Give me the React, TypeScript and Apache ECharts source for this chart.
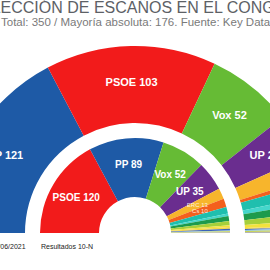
import React, { useEffect, useRef } from "react";
import * as echarts from "echarts";

const titleText = "ELECCIÓN DE ESCAÑOS EN EL CONGRESO";
const subtitleText = "Total: 350 / Mayoría absoluta: 176. Fuente: Key Data";
const outerCaption = "Estimación 28/06/2021";
const innerCaption = "Resultados 10-N";

const outerParties = ["PP", "PSOE", "Vox", "UP", "ERC", "Cs", "JxCat", "Más País", "PNV", "EH Bildu", "CUP", "CC", "NA+", "BNG", "PRC", "Teruel Existe"];
const outerSeats = [121, 103, 52, 27, 13, 3, 8, 4, 6, 5, 3, 1, 1, 1, 1, 1];

const innerParties = ["PSOE", "PP", "Vox", "UP", "ERC", "Cs", "JxCat", "Más País", "PNV", "EH Bildu", "CUP", "CC", "NA+", "BNG", "PRC", "Teruel Existe"];
const innerSeats = [120, 89, 52, 35, 13, 10, 8, 3, 6, 5, 2, 2, 2, 1, 1, 1];

const partyColors: Record<string, string> = {
  PP: "#1e5aa6",
  PSOE: "#f21b1b",
  Vox: "#66bb35",
  UP: "#6a2d8f",
  ERC: "#f7b52c",
  Cs: "#f4601d",
  JxCat: "#1fbfae",
  "Más País": "#45d6cb",
  PNV: "#1d9a4c",
  "EH Bildu": "#a6cf3a",
  CUP: "#f2e23c",
  CC: "#f5d547",
  "NA+": "#3a63b8",
  BNG: "#8fc5e6",
  PRC: "#c8d34a",
  "Teruel Existe": "#b5b5b5",
};

export default function App() {
  const ref = useRef<HTMLDivElement>(null);
  useEffect(() => {
    if (!ref.current) return;
    const chart = echarts.init(ref.current, null, { renderer: "svg" });
    const font = "'Liberation Sans', Arial, sans-serif";
    const outerData = outerParties.map((p, i) => ({
      name: p,
      value: outerSeats[i],
      itemStyle: { color: partyColors[p] },
      label: { show: outerSeats[i] >= 20 },
    }));
    const innerData = innerParties.map((p, i) => ({
      name: p,
      value: innerSeats[i],
      itemStyle: { color: partyColors[p] },
      label:
        innerSeats[i] >= 20
          ? { show: true }
          : { show: innerSeats[i] >= 8, fontSize: 6, fontWeight: "normal", color: "rgba(255,255,255,0.85)" },
    }));
    chart.setOption({
      animation: false,
      backgroundColor: "#ffffff",
      title: [
        {
          text: titleText,
          left: -19,
          top: -1,
          padding: 0,
          textStyle: {
            fontFamily: font,
            fontSize: 16,
            fontWeight: "normal",
            color: "#5d6166",
          },
        },
        {
          text: subtitleText,
          left: 1,
          top: 16,
          padding: 0,
          textStyle: {
            fontFamily: font,
            fontSize: 11.5,
            fontWeight: "normal",
            color: "#7a7a7a",
          },
        },
      ],
      series: [
        {
          type: "pie",
          name: outerCaption,
          center: [135, 233],
          radius: [110, 187],
          startAngle: 180,
          endAngle: 360,
          clockwise: true,
          avoidLabelOverlap: false,
          silent: true,
          label: {
            show: true,
            position: "inside",
            formatter: "{b} {c}",
            color: "#ffffff",
            fontFamily: font,
            fontSize: 11,
            fontWeight: "bold",
          },
          labelLine: { show: false },
          data: outerData,
        },
        {
          type: "pie",
          name: innerCaption,
          center: [135, 233],
          radius: [36, 95],
          startAngle: 180,
          endAngle: 360,
          clockwise: true,
          avoidLabelOverlap: false,
          silent: true,
          label: {
            show: true,
            position: "inside",
            formatter: "{b} {c}",
            color: "#ffffff",
            fontFamily: font,
            fontSize: 10,
            fontWeight: "bold",
          },
          labelLine: { show: false },
          data: innerData,
        },
      ],
      graphic: [
        {
          type: "text",
          x: -10,
          y: 246,
          style: {
            text: outerCaption,
            align: "center",
            verticalAlign: "middle",
            fontSize: 7,
            fontFamily: font,
            fill: "#222222",
          },
        },
        {
          type: "text",
          x: 67,
          y: 246,
          style: {
            text: innerCaption,
            align: "center",
            verticalAlign: "middle",
            fontSize: 7,
            fontFamily: font,
            fill: "#222222",
          },
        },
      ],
    });
    return () => chart.dispose();
  }, []);
  return (
    <div
      ref={ref}
      style={{ position: "absolute", left: 0, top: 0, width: 270, height: 270 }}
    />
  );
}
